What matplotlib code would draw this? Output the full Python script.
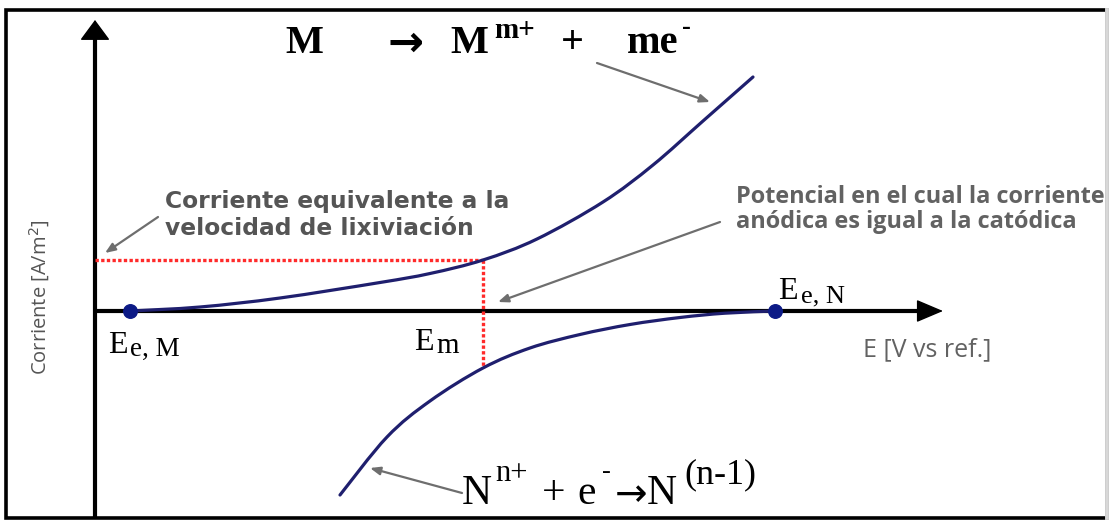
import matplotlib
matplotlib.use("Agg")
import matplotlib.pyplot as plt
from matplotlib.patches import Rectangle, PathPatch
from matplotlib.path import Path

# Equilibrium potentials and mixed-potential point (arbitrary units)
E_eq_M = 0.35
E_eq_N = 6.80
E_mix = 3.88
i_mix_anodic = 0.51
i_mix_cathodic = -0.57

# Anodic branch: M -> M^m+ + me-
E_anodic = [0.35, 1.05, 1.85, 2.85, 3.35, 3.88, 4.42, 5.08, 5.58, 6.08, 6.58]
i_anodic = [0.00, 0.04, 0.13, 0.285, 0.375, 0.51, 0.72, 1.09, 1.46, 1.90, 2.34]

# Cathodic branch: N^n+ + e- -> N^(n-1)
E_cathodic = [6.80, 6.30, 5.85, 5.35, 4.85, 4.35, 3.88, 3.35, 2.92, 2.45]
i_cathodic = [0.00, -0.022, -0.065, -0.135, -0.235, -0.37, -0.57, -0.90, -1.26, -1.84]

# Axis extents
E_axis_end = 8.48
i_axis_top = 2.91
i_axis_bottom = -2.07

CURVE = "#1f1f6e"
DOT = "#0c1a86"
RED = "#ff2a2a"
GRAY = "#555555"
GRAY2 = "#626262"
SERIF = "Liberation Serif"


def smooth_curve(xs, ys):
    """Catmull-Rom curve through the given points, as cubic Bezier segments."""
    pts = list(zip(xs, ys))
    verts = [pts[0]]
    codes = [Path.MOVETO]
    n = len(pts)
    for k in range(n - 1):
        p0 = pts[k - 1] if k > 0 else pts[k]
        p1 = pts[k]
        p2 = pts[k + 1]
        p3 = pts[k + 2] if k + 2 < n else pts[k + 1]
        c1 = (p1[0] + (p2[0] - p0[0]) / 6, p1[1] + (p2[1] - p0[1]) / 6)
        c2 = (p2[0] - (p3[0] - p1[0]) / 6, p2[1] - (p3[1] - p1[1]) / 6)
        verts += [c1, c2, p2]
        codes += [Path.CURVE4] * 3
    return Path(verts, codes)


fig = plt.figure(figsize=(11.09, 5.20), dpi=100)
ax = fig.add_axes([0, 0, 1, 1])
ax.set_xlim(-0.95, 10.14)
ax.set_ylim(-2.09, 3.11)
ax.axis("off")

# outer frame
frame = Rectangle((6 / 1109, 2 / 520), 1101 / 1109, 508.5 / 520, transform=ax.transAxes,
                  fill=False, edgecolor="black", lw=2.6, zorder=1)
ax.add_patch(frame)
ax.plot([1107 / 1109, 1107 / 1109], [2 / 520, 510.5 / 520], transform=ax.transAxes,
        color="#d8d8d8", lw=2.8, zorder=1.5)

# axes with arrowheads
ax.plot([0, 0], [i_axis_bottom, i_axis_top - 0.15], color="black", lw=3, zorder=2,
        solid_capstyle="butt")
ax.annotate("", xy=(0, i_axis_top), xytext=(0, i_axis_top - 0.3),
            arrowprops=dict(arrowstyle="-|>,head_length=0.65,head_width=0.48",
                            mutation_scale=20, color="black", lw=1, shrinkA=0, shrinkB=0))
ax.plot([0, E_axis_end - 0.2], [0, 0], color="black", lw=3, zorder=2,
        solid_capstyle="butt")
ax.annotate("", xy=(E_axis_end, 0), xytext=(E_axis_end - 0.4, 0),
            arrowprops=dict(arrowstyle="-|>,head_length=0.85,head_width=0.36",
                            mutation_scale=20, color="black", lw=1, shrinkA=0, shrinkB=0))

# polarization curves
for xs, ys in ((E_anodic, i_anodic), (E_cathodic, i_cathodic)):
    ax.add_patch(PathPatch(smooth_curve(xs, ys), facecolor="none", edgecolor=CURVE,
                           lw=2.3, capstyle="round", zorder=4))

# mixed potential construction
ax.plot([0, E_mix], [i_mix_anodic, i_mix_anodic], color=RED, lw=2.4,
        linestyle=(0, (1, 0.7)), zorder=3)
ax.plot([E_mix, E_mix], [i_mix_anodic, i_mix_cathodic], color=RED, lw=2.4,
        linestyle=(0, (1, 0.7)), zorder=3)

# equilibrium points
ax.scatter([E_eq_M, E_eq_N], [0, 0], s=95, color=DOT, zorder=5)


def put(x, y, s, size, **kw):
    style = dict(family=SERIF, color="black", ha="left", va="baseline")
    style.update(kw)
    ax.text(x, y, s, fontsize=size, **style)


# anodic reaction
put(1.90, 2.58, "M", 29, fontweight="bold")
put(2.93, 2.55, "→", 31, family="DejaVu Sans", fontweight="bold")
put(3.55, 2.58, "M", 29, fontweight="bold")
put(3.99, 2.73, "m+", 21, fontweight="bold")
put(4.66, 2.58, "+", 29, fontweight="bold")
put(5.32, 2.58, "me", 29, fontweight="bold")
put(5.87, 2.77, "-", 19, fontweight="bold")

# cathodic reaction
put(3.67, -1.93, "N", 30)
put(4.00, -1.70, "n+", 22)
put(4.47, -1.93, "+", 30)
put(4.82, -1.93, "e", 30)
put(5.07, -1.67, "-", 19)
put(5.20, -1.95, "→", 28, family="DejaVu Sans")
put(5.52, -1.93, "N", 30)
put(5.89, -1.72, "(n-1)", 26)

# potential labels
put(0.13, -0.42, "E", 23)
put(0.35, -0.45, "e, M", 19.5)
put(3.19, -0.39, "E", 23)
put(3.41, -0.42, "m", 21)
put(6.83, 0.12, "E", 23)
put(7.06, 0.09, "e, N", 19)

# explanatory notes
note = dict(family="DejaVu Sans", fontweight="bold", color=GRAY)
put(0.70, 1.03, "Corriente equivalente a la", 16.8, **note)
put(0.70, 0.76, "velocidad de lixiviación", 16.8, **note)
note2 = dict(family="Open Sans", fontweight="bold", color=GRAY2)
put(6.41, 1.08, "Potencial en el cual la corriente", 16.9, **note2)
put(6.41, 0.83, "anódica es igual a la catódica", 16.9, **note2)

# axis titles
ax.text(7.68, -0.39, "E [V vs ref.]", fontsize=18, family="Open Sans", color=GRAY2,
        ha="left", va="center")
ax.text(-0.55, 0.14, "Corriente [A/m$^2$]", fontsize=14.5, family="Open Sans", color=GRAY,
        ha="center", va="center", rotation=90)

# pointer arrows
arrow_kw = dict(arrowstyle="-|>,head_length=0.5,head_width=0.2", mutation_scale=12,
                color="#6e6e6e", lw=1.6, shrinkA=0, shrinkB=0)
ax.annotate("", xy=(6.15, 2.09), xytext=(5.02, 2.48), arrowprops=arrow_kw)
ax.annotate("", xy=(0.10, 0.58), xytext=(0.63, 0.94), arrowprops=arrow_kw)
ax.annotate("", xy=(4.03, 0.09), xytext=(6.25, 0.89), arrowprops=arrow_kw)
ax.annotate("", xy=(2.75, -1.57), xytext=(3.67, -1.82), arrowprops=arrow_kw)

fig.savefig("out.png", dpi=100)
